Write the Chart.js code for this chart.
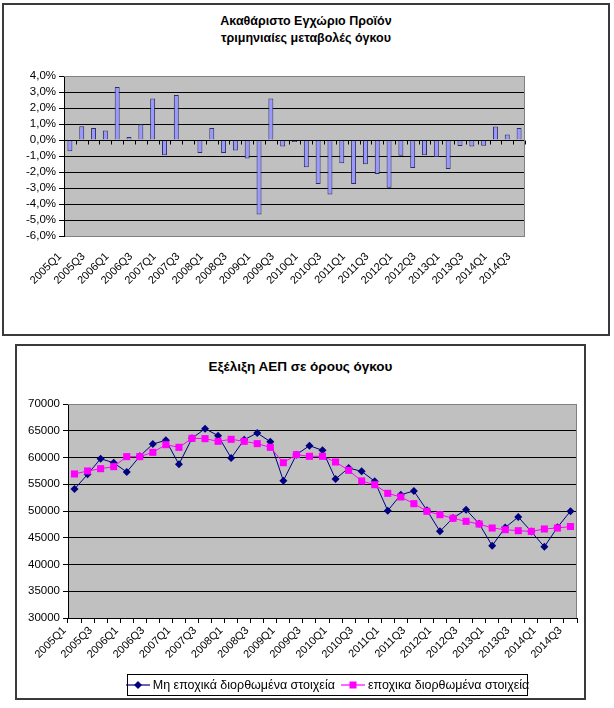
<!DOCTYPE html>
<html>
<head>
<meta charset="utf-8">
<script src="https://cdn.jsdelivr.net/npm/chart.js@4/dist/chart.umd.min.js"></script>
<style>
  html, body { margin: 0; padding: 0; background: #fff; }
  body { width: 614px; height: 708px; position: relative; overflow: hidden; font-family: "Liberation Sans", Arial, sans-serif; }
  .frame { position: absolute; border: 2px solid #3a3a3a; box-sizing: border-box; background: #fff; }
  .title { position: absolute; left: 0; width: 100%; text-align: center; font-weight: bold; color: #000; }
  canvas { position: absolute; }
  #legend { position: absolute; left: 127px; top: 674px; width: 401px; height: 22px; border: 1px solid #000; box-sizing: border-box;
            display: flex; align-items: center; justify-content: center; font-size: 12.5px; color: #000; background: #fff; white-space: nowrap; }
  #legend .item { display: flex; align-items: center; margin: 0 3px; }
  #legend svg { margin-right: 3px; }
</style>
</head>
<body>
<div class="frame" style="left:2px; top:3px; width:608px; height:333px;"></div>
<div class="title" style="top:13px; font-size:12.5px; line-height:17px; left:2px; width:608px;">Ακαθάριστο Εγχώριο Προϊόν<br>τριμηνιαίες μεταβολές όγκου</div>
<canvas id="c1" width="605" height="330" style="left:3px; top:4px; width:605px; height:330px;"></canvas>

<div class="frame" style="left:15px; top:344px; width:571px; height:356px;"></div>
<div class="title" style="top:358px; font-size:13.5px; line-height:18px; left:15px; width:571px;">Εξέλιξη ΑΕΠ σε όρους όγκου</div>
<canvas id="c2" width="567" height="352" style="left:17px; top:346px; width:567px; height:352px;"></canvas>
<div id="legend">
  <span class="item"><svg width="24" height="10"><line x1="0" y1="5" x2="24" y2="5" stroke="#000080" stroke-width="1.2"/><polygon points="12,1 16,5 12,9 8,5" fill="#000080"/></svg>Μη εποχικά διορθωμένα στοιχεία</span>
  <span class="item"><svg width="24" height="10"><line x1="0" y1="5" x2="24" y2="5" stroke="#FF00FF" stroke-width="1.2"/><rect x="8.5" y="1.5" width="7" height="7" fill="#FF00FF"/></svg>εποχικα διορθωμένα στοιχεία</span>
</div>

<script>
// ---- data ----
const quarters = [
  "2005Q1","2005Q2","2005Q3","2005Q4",
  "2006Q1","2006Q2","2006Q3","2006Q4",
  "2007Q1","2007Q2","2007Q3","2007Q4",
  "2008Q1","2008Q2","2008Q3","2008Q4",
  "2009Q1","2009Q2","2009Q3","2009Q4",
  "2010Q1","2010Q2","2010Q3","2010Q4",
  "2011Q1","2011Q2","2011Q3","2011Q4",
  "2012Q1","2012Q2","2012Q3","2012Q4",
  "2013Q1","2013Q2","2013Q3","2013Q4",
  "2014Q1","2014Q2","2014Q3"
];
// quarter-on-quarter volume change (%)
const qoqChange = [
  -0.70, 0.86, 0.75, 0.60,
   3.31, 0.19, 0.99, 2.60,
  -0.95, 2.81, -0.05, -0.81,
   0.75, -0.81, -0.66, -1.16,
  -4.66, 2.60, -0.41, -0.13,
  -1.70, -2.75, -3.40, -1.45,
  -2.75, -1.51, -2.12, -2.98,
  -0.98, -1.75, -0.95, -1.06,
  -1.81, -0.37, -0.41, -0.36,
   0.85, 0.35, 0.75
];
// GDP volume, non seasonally adjusted
const gdpNSA = [
  54100, 56850, 59780, 59000,
  57290, 60220, 62520, 63210,
  58720, 63580, 65390, 64080,
  59900, 63330, 64580, 62960,
  55670, 60530, 62210, 61340,
  55980, 58040, 57410, 55550,
  50060, 53050, 53740, 50130,
  46200, 48690, 50250, 47630,
  43520, 46900, 48880, 46150,
  43300, 46950, 49970
];
// GDP volume, seasonally adjusted
const gdpSA = [
  56920, 57480, 57910, 58290,
  60160, 60160, 60970, 62400,
  61900, 63580, 63520, 63020,
  63400, 63020, 62590, 61900,
  59030, 60530, 60220, 60220,
  59160, 57600, 55610, 54920,
  53300, 52620, 51370, 49940,
  49310, 48630, 48070, 47570,
  46820, 46510, 46320, 46190,
  46640, 46820, 47100
];
const pctTicks = { min: -6, max: 4, step: 1 };
const gdpTicks = { min: 30000, max: 70000, step: 5000 };

// ---- helpers ----
const FONT = '"Liberation Sans", Arial, sans-serif';
const plotBg = {
  id: 'plotBg',
  beforeDraw(chart) {
    const a = chart.chartArea, ctx = chart.ctx;
    ctx.save();
    ctx.fillStyle = '#C0C0C0';
    ctx.fillRect(a.left, a.top, a.right - a.left, a.bottom - a.top);
    ctx.restore();
  },
  afterDraw(chart) {
    const a = chart.chartArea, ctx = chart.ctx;
    ctx.save();
    ctx.strokeStyle = '#808080';
    ctx.lineWidth = 1;
    ctx.beginPath();
    ctx.moveTo(a.left, a.top + 0.5); ctx.lineTo(a.right - 0.5, a.top + 0.5); ctx.lineTo(a.right - 0.5, a.bottom);
    ctx.stroke();
    ctx.restore();
  }
};
const zeroTicks = {
  id: 'zeroTicks',
  afterDatasetsDraw(chart) {
    const x = chart.scales.x, y = chart.scales.y, ctx = chart.ctx;
    const y0 = Math.round(y.getPixelForValue(0)) + 0.5;
    ctx.save();
    ctx.strokeStyle = '#000';
    ctx.lineWidth = 1;
    ctx.beginPath();
    ctx.moveTo(x.left, y0); ctx.lineTo(x.right, y0);
    const n = chart.data.labels.length;
    for (let i = 0; i <= n; i++) {
      const px = Math.round(x.getPixelForValue(i - 0.5)) + 0.5;
      ctx.moveTo(px, y0); ctx.lineTo(px, y0 + 4);
    }
    ctx.stroke();
    ctx.restore();
  }
};
const everyOther = function(val, idx) { return idx % 2 === 0 ? this.getLabelForValue(val) : ''; };

// ---- chart 1 ----
new Chart(document.getElementById('c1'), {
  type: 'bar',
  data: {
    labels: quarters,
    datasets: [{
      data: qoqChange,
      backgroundColor: '#9999FF',
      borderColor: '#2e2e66',
      borderWidth: 1,
      categoryPercentage: 1.0,
      barPercentage: 0.42
    }]
  },
  options: {
    responsive: false, animation: false, devicePixelRatio: 1,
    layout: { padding: { left: 0, top: 72, right: 83, bottom: 38 } },
    plugins: { legend: { display: false }, title: { display: false }, tooltip: { enabled: false } },
    scales: {
      x: {
        grid: { display: false },
        border: { display: false },
        ticks: { autoSkip: false, maxRotation: 45, minRotation: 45, color: '#000', font: { family: FONT, size: 11 },
                 callback: everyOther, labelOffset: -10, padding: 6 },
        afterFit(s) { s.height = 60; }
      },
      y: {
        min: pctTicks.min, max: pctTicks.max,
        ticks: { stepSize: pctTicks.step, autoSkip: false, color: '#000', font: { family: FONT, size: 11.5 }, padding: 3,
                 callback: v => v.toFixed(1).replace('.', ',') + '%' },
        grid: { color: c => (c.tick && (c.tick.value === pctTicks.max || c.tick.value === pctTicks.min)) ? '#808080' : '#000',
                tickColor: '#000', tickLength: 5, lineWidth: 1 },
        border: { color: '#000', width: 1 },
        afterFit(s) { s.width = 61; }
      }
    }
  },
  plugins: [plotBg, zeroTicks]
});

// ---- chart 2 ----
new Chart(document.getElementById('c2'), {
  type: 'line',
  data: {
    labels: quarters,
    datasets: [
      {
        label: 'Μη εποχικά διορθωμένα στοιχεία',
        data: gdpNSA,
        borderColor: '#000080', backgroundColor: '#000080', borderWidth: 1,
        pointStyle: 'rectRot', pointRadius: 4, pointBorderWidth: 0,
        tension: 0, order: 1
      },
      {
        label: 'εποχικα διορθωμένα στοιχεία',
        data: gdpSA,
        borderColor: '#FF00FF', backgroundColor: '#FF00FF', borderWidth: 1,
        pointStyle: 'rect', pointRadius: 5, pointBorderWidth: 0,
        tension: 0, order: 0
      }
    ]
  },
  options: {
    responsive: false, animation: false, devicePixelRatio: 1,
    layout: { padding: { left: 0, top: 58, right: 7, bottom: 30 } },
    plugins: { legend: { display: false }, title: { display: false }, tooltip: { enabled: false } },
    scales: {
      x: {
        offset: true,
        grid: { offset: true, drawOnChartArea: false, color: '#000', tickLength: 5 },
        border: { color: '#000', width: 1 },
        ticks: { autoSkip: false, maxRotation: 45, minRotation: 45, color: '#000', font: { family: FONT, size: 11 },
                 callback: everyOther, labelOffset: -10, padding: 1 },
        afterFit(s) { s.height = 50; }
      },
      y: {
        min: gdpTicks.min, max: gdpTicks.max,
        ticks: { stepSize: gdpTicks.step, autoSkip: false, color: '#000', font: { family: FONT, size: 11.5 }, padding: 3,
                 callback: v => String(v) },
        grid: { color: c => (c.tick && c.tick.value === gdpTicks.max) ? '#808080' : '#000',
                tickColor: '#000', tickLength: 5, lineWidth: 1 },
        border: { color: '#000', width: 1 },
        afterFit(s) { s.width = 51; }
      }
    }
  },
  plugins: [plotBg]
});
</script>
</body>
</html>
